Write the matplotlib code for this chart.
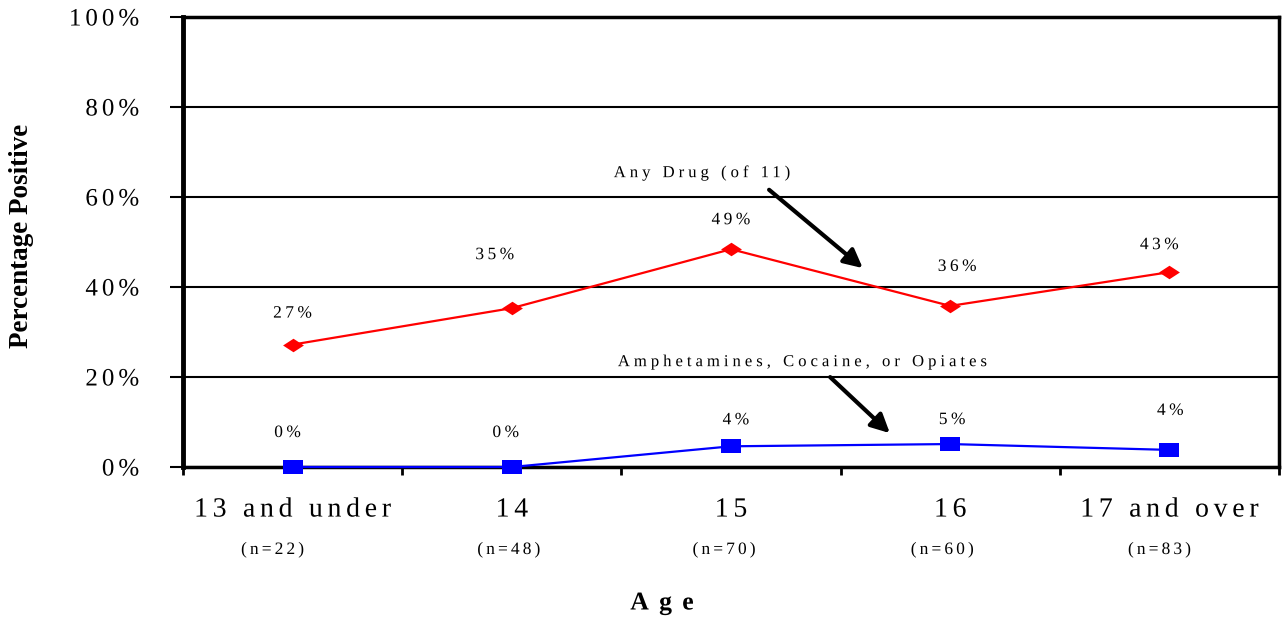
import matplotlib
matplotlib.use("Agg")
import numpy as np
import matplotlib.pyplot as plt
from matplotlib.path import Path
from matplotlib.patheffects import AbstractPathEffect

plt.rcParams['font.family'] = ['Liberation Serif', 'DejaVu Serif']

# data
age_groups = ['13 and under', '14', '15', '16', '17 and over']
n_labels = ['(n=22)', '(n=48)', '(n=70)', '(n=60)', '(n=83)']
any_drug = [27.2, 35.3, 48.4, 35.8, 43.3]
any_drug_labels = ['27%', '35%', '49%', '36%', '43%']
hard_drugs = [0.0, 0.0, 4.6, 5.1, 3.8]
hard_drugs_labels = ['0%', '0%', '4%', '5%', '4%']

# label offsets (pixels) for the value labels and the n= labels
any_offsets = [(0, 31), (-17, 53), (0, 29), (7, 39), (-10, 27)]
hard_offsets = [(-5, 34), (-6, 34), (5, 26), (2, 24), (1, 39)]
n_offsets = [-20, -3, -7, -8, -10]


class Tracking(AbstractPathEffect):
    """Spread the glyphs of a text apart (letter spacing, in em)."""

    def __init__(self, text, spacing, align='center'):
        super().__init__()
        self.text = text
        self.spacing = spacing
        self.align = align

    def draw_path(self, renderer, gc, tpath, affine, rgbFace=None):
        verts, codes = tpath.vertices, tpath.codes
        if codes is None or len(verts) == 0:
            renderer.draw_path(gc, tpath, affine, rgbFace)
            return
        starts = list(np.flatnonzero(codes == Path.MOVETO)) + [len(verts)]
        contours = sorted((verts[a:b, 0].min(), verts[a:b, 0].max(), a, b)
                          for a, b in zip(starts[:-1], starts[1:]))
        # group overlapping contours into glyphs
        groups, cur_max = [], None
        for xmin, xmax, a, b in contours:
            if cur_max is None or xmin > cur_max - 1:
                groups.append([])
                cur_max = xmax
            else:
                cur_max = max(cur_max, xmax)
            groups[-1].append((a, b))
        char_idx = [i for i, c in enumerate(self.text) if not c.isspace()]
        if len(char_idx) == len(groups):
            last = len(self.text) - 1
        else:
            char_idx = list(range(len(groups)))
            last = len(groups) - 1
        ref = last / 2 if self.align == 'center' else last
        t = self.spacing * 100  # em = 100 path units
        new = verts.copy()
        for g, idx in zip(groups, char_idx):
            for a, b in g:
                new[a:b, 0] += (idx - ref) * t
        renderer.draw_path(gc, Path(new, codes), affine, rgbFace)


def track(txt, spacing, align='center'):
    txt.set_path_effects([Tracking(txt.get_text(), spacing, align)])
    return txt


fig = plt.figure(figsize=(12.83, 6.17), dpi=100)
ax = fig.add_axes([183 / 1283, 1 - 467 / 617, 1096 / 1283, 450 / 617])

x = list(range(len(age_groups)))

diamond = Path([(-1, 0), (0, 0.65), (1, 0), (0, -0.65), (-1, 0)],
               [Path.MOVETO, Path.LINETO, Path.LINETO, Path.LINETO, Path.CLOSEPOLY])
rect = Path([(-1, -0.68), (1, -0.68), (1, 0.68), (-1, 0.68), (-1, -0.68)],
            [Path.MOVETO, Path.LINETO, Path.LINETO, Path.LINETO, Path.CLOSEPOLY])

ax.plot(x, any_drug, color='red', lw=1.6, marker=diamond, markersize=15,
        markeredgewidth=0, zorder=4)
ax.plot(x, hard_drugs, color='blue', lw=1.6, marker=rect, markersize=15,
        markeredgewidth=0, zorder=4, clip_on=False)

for xi, yi, lab, off in zip(x, any_drug, any_drug_labels, any_offsets):
    t = ax.annotate(lab, (xi, yi), xytext=off, textcoords='offset pixels',
                    ha='center', va='center', fontsize=12.5)
    track(t, 0.2)
for xi, yi, lab, off in zip(x, hard_drugs, hard_drugs_labels, hard_offsets):
    t = ax.annotate(lab, (xi, yi), xytext=off, textcoords='offset pixels',
                    ha='center', va='center', fontsize=12.5)
    track(t, 0.2)

# callouts
track(ax.text(1.868, 65.3, 'Any Drug (of 11)', ha='center', va='center',
              fontsize=12), 0.24)
ax.annotate('', xy=(2.611, 43.8), xytext=(2.164, 62.0),
            arrowprops=dict(arrowstyle='-|>', lw=3, color='black', mutation_scale=28))
track(ax.text(2.324, 23.3, 'Amphetamines, Cocaine, or Opiates', ha='center',
              va='center', fontsize=12), 0.24)
ax.annotate('', xy=(2.734, 7.1), xytext=(2.443, 20.4),
            arrowprops=dict(arrowstyle='-|>', lw=3, color='black', mutation_scale=28))

ax.set_xlim(-0.5, len(age_groups) - 0.5)
ax.set_ylim(0, 100)

# y axis
ax.set_yticks(range(0, 101, 20))
ax.set_yticklabels([f'{v}%' for v in range(0, 101, 20)], fontsize=18)
ax.tick_params(axis='y', length=9.5, width=1.5, pad=22)
for lab in ax.get_yticklabels():
    track(lab, 0.16, align='right')
ax.grid(axis='y', color='black', lw=1.5)
ax.set_axisbelow(True)

# x axis: boundary ticks + category labels
ax.set_xticks([i - 0.5 for i in range(len(age_groups) + 1)])
ax.set_xticklabels([])
ax.tick_params(axis='x', which='major', length=6, width=2)
ax.set_xticks(x, minor=True)
ax.set_xticklabels(age_groups, minor=True, fontsize=20)
ax.tick_params(axis='x', which='minor', length=0, pad=22)
for lab in ax.get_xticklabels(minor=True):
    track(lab, 0.17)

for xi, lab, dx in zip(x, n_labels, n_offsets):
    t = ax.annotate(lab, (xi, 0), xytext=(dx, -83), textcoords='offset pixels',
                    ha='center', va='center', fontsize=12.5, annotation_clip=False)
    track(t, 0.18)

for side in ['top', 'right', 'bottom']:
    ax.spines[side].set_linewidth(2.5)
ax.spines['left'].set_linewidth(3.5)

fig.text(22 / 1283, 1 - 236 / 617, 'Percentage Positive', rotation=90,
         ha='center', va='center', fontsize=19.5, fontweight='bold')
fig.text(662 / 1283, 1 - 603 / 617, 'Age', ha='center', va='center',
         fontsize=18.5, fontweight='bold')
track(fig.texts[-1], 0.4)

fig.savefig('out.png', dpi=100)
